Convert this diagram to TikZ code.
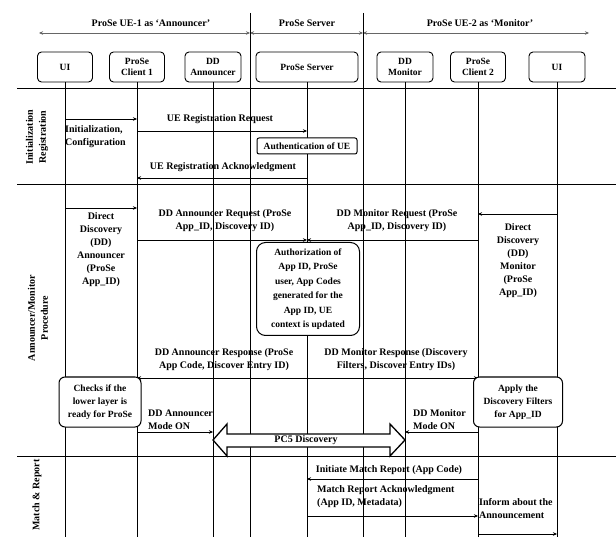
\documentclass[tikz,border=0pt]{standalone}
\usepackage{fontspec}
\setmainfont{Liberation Serif}
\usetikzlibrary{arrows.meta,calc}

\tikzset{
  actor/.style={draw, line width=0.9pt, rounded corners=4pt, minimum height=30pt,
    align=center, inner sep=1pt, font=\fontsize{9.5}{11}\selectfont\bfseries},
  life/.style={line width=0.5pt},
  msg/.style={line width=0.5pt, -{Stealth[length=4pt,width=3.5pt]}},
  hdr/.style={line width=0.5pt, black!60, {Stealth[length=4pt,width=3.5pt]}-{Stealth[length=4pt,width=3.5pt]}},
  txt/.style={font=\fontsize{10}{13}\selectfont\bfseries, align=center, inner sep=0pt},
  ltxt/.style={txt, align=left, anchor=west},
  note/.style={draw, fill=white, line width=1pt, rounded corners=6pt, align=center,
    inner sep=0pt, font=\fontsize{9.5}{13}\selectfont\bfseries},
  phase/.style={txt, rotate=90}
}
\def\msgline(#1,#2,#3){\draw[msg] (#1 |- 0,#3) -- (#2 |- 0,#3);}

\begin{document}
\begin{tikzpicture}[x=1pt,y=-1pt]
		\useasboundingbox (0,0) rectangle (616,537);
		%%%%% HEADER %%%%%
		
		\node[txt] (ue1lbl) at (151,23) {ProSe UE-1 as ‘Announcer’};
		\node[txt] (srvlbl) at (307,23) {ProSe Server};
		\node[txt] (ue2lbl) at (480,23) {ProSe UE-2 as ‘Monitor’};
		
		\coordinate (hl) at (39,33);
		\coordinate (hr) at (589,33);
		\coordinate (dv1) at (250,13);
		\coordinate (dv2) at (363,13);
		\draw[hdr] (hl) -- (dv1 |- hl);
		\draw[hdr] (dv1 |- hl) -- (dv2 |- hl);
		\draw[hdr] (dv2 |- hl) -- (hr);
		\draw[life] (dv1) -- (250,537);
		\draw[life] (dv2) -- (363,537);
		
		\node[actor, minimum width=55pt] (ui1) at (65,67) {UI};
		\node[actor, minimum width=55pt] (c1) at (137,67) {ProSe\\Client 1};
		\node[actor, minimum width=56pt] (da) at (213,67) {DD\\Announcer};
		\node[actor, minimum width=102pt] (srv) at (307,67) {ProSe Server};
		\node[actor, minimum width=56pt] (dm) at (405,67) {DD\\Monitor};
		\node[actor, minimum width=55pt] (c2) at (478,67) {ProSe\\Client 2};
		\node[actor, minimum width=56pt] (ui2) at (557,67) {UI};
		
		\foreach \a in {ui1,c1,da,srv,dm,c2,ui2}
			\draw[life] (\a.south) -- (\a |- 0,537);
		
		%%%%% TABLE %%%%%
		
		\draw[life] (16,88) -- (616,88);
		\draw[life] (16,184) -- (616,184);
		\draw[life] (16,456) -- (616,456);
		\draw[life, double, double distance=1.6pt] (16,88) -- (16,537);
		
		\node[phase] (ph1) at (37,137) {Initialization\\Registration};
		\node[phase] (ph2) at (38,318) {Announcer/Monitor\\Procedure};
		\node[phase] (ph3) at (37,495) {Match \& Report};
		
		%%%%% INITIALIZATION %%%%%
		
		\msgline(ui1,c1,119)
		\node[ltxt] (init) at (65,137) {Initialization,\\Configuration};
		\node[txt] (regreq) at (220,119) {UE Registration Request};
		\msgline(c1,srv,131)
		\node[note, rounded corners=2pt, minimum width=100pt, minimum height=16pt] (auth1) at (307,146) {Authentication of UE};
		\node[txt] (regack) at (223,167) {UE Registration Acknowledgment};
		\msgline(srv,c1,178)
		
		%%%%% ANNOUNCE / MONITOR %%%%%
		
		\msgline(ui1,c1,208)
		\node[txt] (ddann) at (101,250) {Direct\\Discovery\\(DD)\\Announcer\\(ProSe\\App\_ID)};
		\node[txt] (annreq) at (225,221) {DD Announcer Request (ProSe\\App\_ID, Discovery ID)};
		\msgline(c1,srv,240)
		\node[txt] (monreq) at (397,221) {DD Monitor Request (ProSe\\App\_ID, Discovery ID)};
		\msgline(c2,srv,240)
		\msgline(ui2,c2,214)
		\node[txt] (ddmon) at (518,261) {Direct\\Discovery\\(DD)\\Monitor\\(ProSe\\App\_ID)};
		
		\node[note, rounded corners=9pt, minimum width=103pt, minimum height=93pt, font=\fontsize{9.5}{14.5}\selectfont\bfseries] (auth2) at (308,289) {Authorization of\\App ID, ProSe\\user, App Codes\\generated for the\\App ID, UE\\context is updated};
		
		\node[txt] (annrsp) at (224,360) {DD Announcer Response (ProSe\\App Code, Discover Entry ID)};
		\msgline(srv,c1,378)
		\node[txt] (monrsp) at (396,360) {DD Monitor Response (Discovery\\Filters, Discover Entry IDs)};
		\msgline(srv,c2,378)
		
		\node[note, minimum width=82pt, minimum height=50pt] (check) at (100,402) {Checks if the\\lower layer is\\ready for ProSe};
		\node[note, minimum width=89pt, minimum height=50pt] (apply) at (518,402) {Apply the\\Discovery Filters\\for App\_ID};
		
		\node[ltxt] (annon) at (148,420) {DD Announcer\\Mode ON};
		\msgline(c1,da,432)
		\node[ltxt] (monon) at (413,420) {DD Monitor\\Mode ON};
		\msgline(c2,dm,432)
		
		\draw[line width=1.3pt, fill=white, line join=miter]
			(da |- 0,440) -- (227,424) -- (227,434) -- (390,434) -- (390,424)
			-- (dm |- 0,440) -- (390,456) -- (390,447) -- (227,447) -- (227,456) -- cycle;
		\node[txt] (pc5) at (306,440) {PC5 Discovery};
		
		%%%%% MATCH REPORT %%%%%
		
		\node[txt] (match) at (389,470) {Initiate Match Report (App Code)};
		\msgline(c2,srv,479)
		\node[ltxt] (mack) at (317,497) {Match Report Acknowledgment\\(App ID, Metadata)};
		\msgline(srv,c2,516)
		\node[ltxt] (inform) at (479,509) {Inform about the\\Announcement};
		\msgline(c2,ui2,534)
		
\end{tikzpicture}
\end{document}
